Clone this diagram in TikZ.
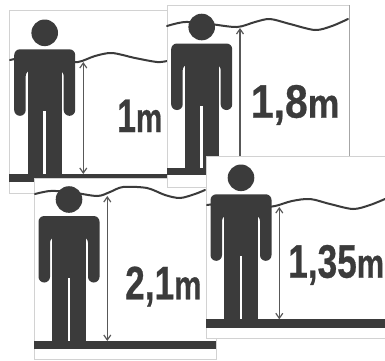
\documentclass[tikz,border=0pt]{standalone}
\usepackage{fontspec}
\setmainfont{Liberation Sans}
\newfontfamily\labelfont[FakeBold=0.6]{Liberation Sans Bold}
\usetikzlibrary{arrows.meta}
\definecolor{ink}{HTML}{3B3B3B}
\definecolor{edge}{HTML}{D2D2D2}
\tikzset{
  x=1pt,y=-1pt,
  panel/.style={fill=white,draw=edge,line width=1pt},
  floorbar/.style={fill=ink},
  wave/.style={draw=ink,line width=2pt,line cap=round},
  measure/.style={draw=ink!85,line width=1.2pt,{Straight Barb[length=5pt,width=7pt]}-{Straight Barb[length=5pt,width=7pt]}},
  measureup/.style={draw=ink!85,line width=1.2pt,-{Straight Barb[length=5pt,width=7pt]}},
  label/.style={inner sep=0pt,anchor=base west,text=ink}
}
\newcommand{\personfig}[2]{%
  \begin{scope}[shift={(#1,#2)}]
    \fill[ink] (0,-16.5) circle[radius=13.3];
    \fill[ink,rounded corners=5.7pt] (-30.5,66.5) -- (-30.5,0) -- (30.5,0) -- (30.5,66.5) -- (19,66.5) -- (19,21) -- (-19,21) -- (-19,66.5) -- cycle;
    \fill[ink] (-16.8,10) rectangle (16.8,125);
    \fill[ink] (-19.5,10) rectangle (19.5,21);
    \fill[white] (-1.4,62) rectangle (1.4,125);
  \end{scope}}
\newcommand{\labeltext}[3]{\scalebox{#1}[1]{\labelfont\fontsize{47}{47}\selectfont #2\fontsize{41}{41}\selectfont #3}}
\begin{document}
\begin{tikzpicture}
\useasboundingbox (0,0) rectangle (385,360);
\fill[white] (0,0) rectangle (385,360);

% panel 1
\draw[panel] (9,10) rectangle (167,193);
\draw[wave] plot[smooth] coordinates {(10,60) (30,57) (60,60) (78,62) (95,56) (112,53) (135,58) (157,62) (167,61)};
\personfig{44.7}{49.3}
\fill[floorbar] (9,174) rectangle (167,182);
\coordinate (a1) at (83.3,62); \coordinate (b1) at (83.3,174);
\draw[measure] (a1) -- (b1);
\node[label] (t1) at (117,132) {\labeltext{0.72}{1}{m}};

% panel 3
\draw[panel] (34,178) rectangle (216,359);
\draw[wave] plot[smooth] coordinates {(35,194) (50,191) (70,192) (97,196) (110,192) (123,187) (147,188) (165,195) (180,198) (195,194) (205,190)};
\personfig{69}{216}
\fill[floorbar] (34,341) rectangle (216,349);
\coordinate (a3) at (107.3,196); \coordinate (b3) at (107.3,341);
\draw[measure] (a3) -- (b3);
\node[label] (t3) at (125,299.3) {\labeltext{0.75}{2,1}{m}};

% panel 2
\draw[panel] (167,5) rectangle (349,187);
\draw[draw=gray!70,line width=1pt] (349,5) -- (349,187);
\draw[wave] plot[smooth] coordinates {(167,26) (185,22) (210,24) (237,27) (255,22) (270,19) (290,24) (315,30) (332,26) (348,19)};
\personfig{201.7}{43.5}
\fill[floorbar] (167,168) rectangle (349,175);
\coordinate (a2) at (240,28); \coordinate (b2) at (240,168);
\draw[measureup] (b2) -- (a2);
\node[label] (t2) at (250.7,117.7) {\labeltext{0.87}{1,8}{m}};

% panel 4
\draw[panel] (206,156) rectangle (392,338);
\draw[wave] plot[smooth] coordinates {(207,205) (230,203) (260,207) (275,206) (292,201) (310,199) (330,204) (353,209) (370,205) (385,199)};
\personfig{241}{194.3}
\fill[floorbar] (206,319.3) rectangle (385,327.7);
\coordinate (a4) at (279.3,207); \coordinate (b4) at (279.3,319.3);
\draw[measure] (a4) -- (b4);
\node[label] (t4) at (288,277.7) {\labeltext{0.75}{1,35}{m}};
\end{tikzpicture}
\end{document}
